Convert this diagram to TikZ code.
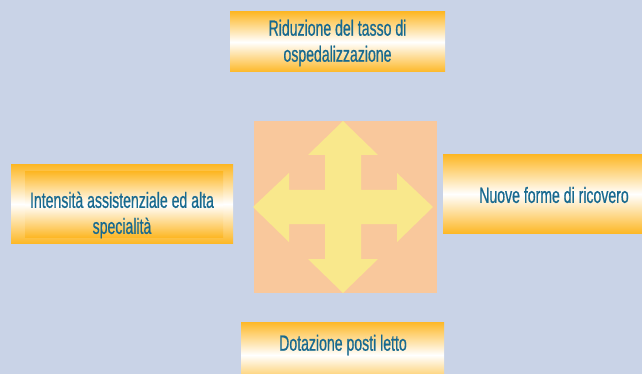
\documentclass[tikz,border=0pt]{standalone}
\usepackage{fontspec}
\setmainfont[FakeStretch=0.64,FakeBold=0.6]{Liberation Sans}
\definecolor{bgc}{HTML}{C9D3E7}
\definecolor{sqc}{HTML}{F9C89C}
\definecolor{arc}{HTML}{F9E88C}
\definecolor{orc}{HTML}{FDB827}
\definecolor{txc}{HTML}{17698F}
\tikzset{
  gbox/.style={top color=orc, bottom color=orc, middle color=white, draw=none},
  lbl/.style={text=txc, font=\fontsize{22}{26}\selectfont, align=center}
}
\begin{document}
\begin{tikzpicture}[x=1pt,y=-1pt]
\fill[bgc] (0,0) rectangle (642,374);
\useasboundingbox (0,0) rectangle (642,374);
% central square
\fill[sqc] (254,121) rectangle (437,293);
\fill[arc] (343,121) -- (378,155) -- (361,155) -- (361,190) -- (397,190) -- (397,173)
  -- (433,207) -- (397,242) -- (397,224) -- (361,224) -- (361,259) -- (378,259)
  -- (343,293) -- (308,259) -- (325,259) -- (325,224) -- (289,224) -- (289,242)
  -- (253,207) -- (289,173) -- (289,190) -- (325,190) -- (325,155) -- (308,155) -- cycle;
% top box
\shade[gbox] (230,12) rectangle (445,72);
\node[lbl] (top) at (337.5,43) {Riduzione del tasso di\\ospedalizzazione};
% left box
\shade[gbox] (11,165) rectangle (233,243);
\shade[gbox] (25,172) rectangle (223,237);
\node[lbl] (left) at (122,215) {Intensità assistenziale ed alta\\specialità};
% right box
\shade[gbox] (443,155) rectangle (642,233);
\node[lbl] (right) at (554,195) {Nuove forme di ricovero};
% bottom box
\shade[gbox] (241,322) rectangle (444,388);
\node[lbl] (bottom) at (343,345) {Dotazione posti letto};
\end{tikzpicture}
\end{document}
